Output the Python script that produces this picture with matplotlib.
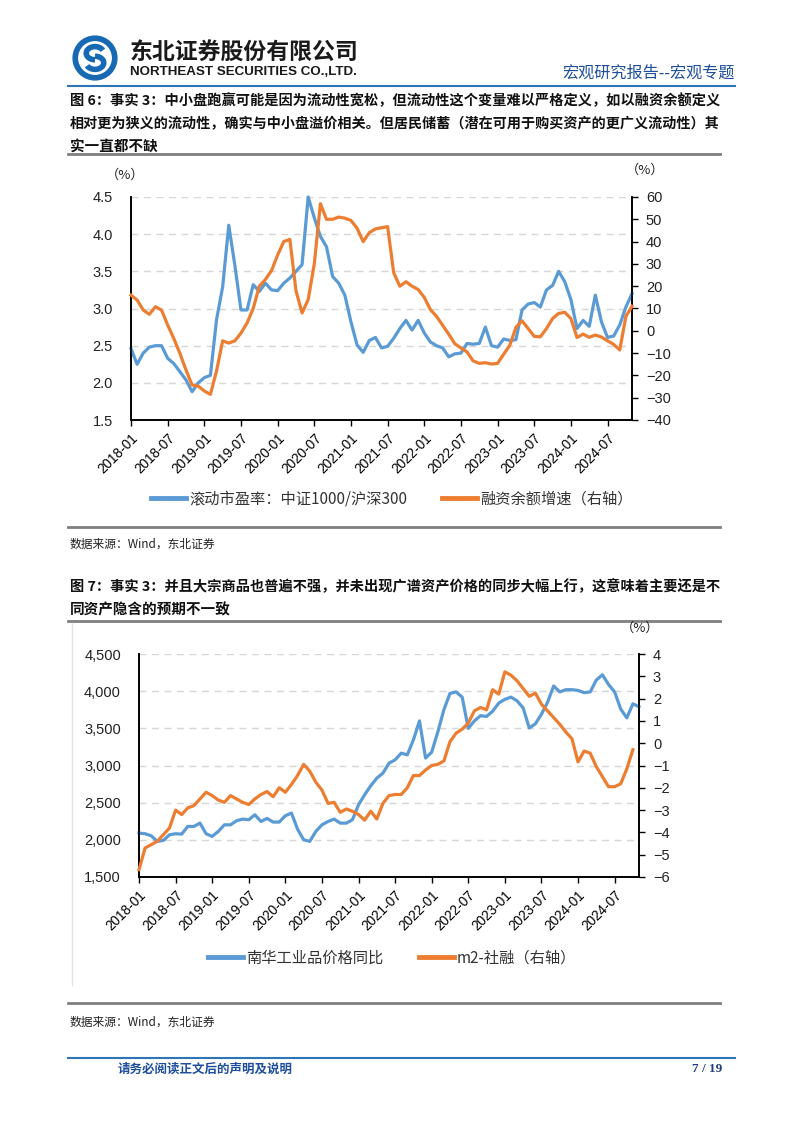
import numpy as np
import matplotlib.pyplot as plt
from matplotlib.patches import Circle, Arc
from matplotlib.lines import Line2D
from matplotlib.ticker import FuncFormatter

plt.rcParams['font.family'] = ['Noto Sans CJK SC', 'DejaVu Sans']
plt.rcParams['axes.unicode_minus'] = True

W, H = 802, 1133
BLUE = '#5B9BD5'
ORANGE = '#ED7D31'
NUM_FONT = ['Liberation Sans', 'DejaVu Sans']

# ---- data (monthly, 2018-01 onwards) ----
tick_labels = ['2018-01', '2018-07', '2019-01', '2019-07', '2020-01', '2020-07', '2021-01',
               '2021-07', '2022-01', '2022-07', '2023-01', '2023-07', '2024-01', '2024-07']

# fig 6: rolling PE ratio CSI1000 / CSI300 (left), margin balance growth % (right)
pe_ratio = [2.46, 2.25, 2.40, 2.48, 2.50, 2.50, 2.33, 2.26, 2.15, 2.04,
            1.88, 2.00, 2.07, 2.10, 2.85, 3.29, 4.12, 3.58, 2.98, 2.98,
            3.32, 3.23, 3.34, 3.25, 3.24, 3.34, 3.41, 3.50, 3.59, 4.50,
            4.22, 3.97, 3.83, 3.43, 3.34, 3.18, 2.82, 2.51, 2.41, 2.57,
            2.61, 2.47, 2.49, 2.60, 2.73, 2.84, 2.71, 2.84, 2.67, 2.55,
            2.50, 2.47, 2.35, 2.39, 2.40, 2.53, 2.52, 2.53, 2.75, 2.50,
            2.48, 2.59, 2.57, 2.58, 2.98, 3.06, 3.08, 3.02, 3.25, 3.31,
            3.50, 3.36, 3.12, 2.73, 2.84, 2.76, 3.18, 2.82, 2.61, 2.63,
            2.78, 3.02, 3.20]
margin_growth = [16.0, 13.8, 9.3, 7.4, 10.8, 9.3, 2.6, -3.4, -10.1, -17.6,
                 -24.3, -24.8, -27.0, -28.5, -18.0, -4.5, -5.5, -4.5, -1.0, 3.5,
                 10.0, 20.0, 23.0, 27.0, 34.0, 40.0, 41.0, 18.0, 8.0, 14.0,
                 30.0, 57.0, 50.0, 50.0, 51.0, 50.5, 49.5, 46.0, 40.0, 44.0,
                 45.7, 46.2, 46.7, 26.0, 20.0, 22.0, 20.0, 18.5, 15.0, 9.5,
                 6.5, 2.5, -1.5, -5.8, -7.7, -9.5, -13.5, -14.6, -14.3, -14.9,
                 -14.6, -10.5, -6.5, 1.5, 4.5, 1.0, -2.5, -2.7, 1.0, 5.5,
                 7.8, 8.3, 5.5, -3.0, -1.5, -2.9, -1.9, -2.8, -4.5, -6.1,
                 -8.6, 6.5, 11.0]

# fig 7: Nanhua industrial index (left), M2 - TSF growth gap % (right)
nanhua = [2091, 2082, 2055, 1979, 1992, 2068, 2082, 2077, 2180, 2180,
          2225, 2082, 2046, 2113, 2202, 2202, 2256, 2279, 2270, 2337,
          2247, 2288, 2239, 2239, 2324, 2360, 2144, 2001, 1979, 2113,
          2202, 2247, 2279, 2225, 2225, 2270, 2471, 2606, 2727, 2830,
          2897, 3031, 3076, 3166, 3143, 3345, 3600, 3100, 3180, 3450,
          3750, 3970, 3990, 3920, 3500, 3600, 3670, 3660, 3730, 3840,
          3890, 3920, 3870, 3775, 3505, 3560, 3690, 3850, 4070, 3990,
          4020, 4020, 4010, 3980, 3990, 4150, 4220, 4090, 3990, 3760,
          3640, 3830, 3790]
m2_tsf = [-5.67, -4.7, -4.55, -4.4, -4.1, -3.8, -3.0, -3.2, -2.9, -2.8,
          -2.5, -2.2, -2.35, -2.55, -2.65, -2.35, -2.5, -2.65, -2.75, -2.5,
          -2.3, -2.17, -2.4, -2.0, -2.2, -1.85, -1.45, -0.95, -1.25, -1.75,
          -2.1, -2.7, -2.65, -3.1, -2.95, -3.05, -3.2, -3.45, -3.05, -3.4,
          -2.7, -2.35, -2.3, -2.3, -2.0, -1.45, -1.45, -1.2, -1.0, -0.95,
          -0.8, 0.07, 0.45, 0.63, 0.9, 1.45, 1.6, 1.5, 2.4, 2.2,
          3.2, 3.05, 2.8, 2.45, 2.1, 2.25, 1.75, 1.45, 1.15, 0.85,
          0.5, 0.2, -0.84, -0.35, -0.45, -1.05, -1.5, -1.95, -1.95, -1.82,
          -1.15, -0.29]

fig = plt.figure(figsize=(W / 100, H / 100), dpi=100)


def fx(x):
    return x / W


def fy(y):
    return 1 - y / H


def hline(y, x0, x1, color, lw):
    fig.add_artist(Line2D([fx(x0), fx(x1)], [fy(y), fy(y)], color=color, lw=lw))


def fit_line(x, y, text, width_px, size=10.5):
    t = fig.text(fx(x), fy(y), text, fontsize=size, weight='bold', va='center', color='#111111')
    w = t.get_window_extent(fig.canvas.get_renderer()).width
    t.set_fontsize(size * width_px / w)
    return t


# ---- header ----
ax_logo = fig.add_axes([fx(72), fy(81), 46 / W, 46 / H])
ax_logo.set_xlim(-1.05, 1.05)
ax_logo.set_ylim(-1.05, 1.05)
ax_logo.axis('off')
ax_logo.add_patch(Circle((0, 0), 1.0, color='#1769b3'))
ax_logo.add_patch(Circle((0, 0), 0.74, color='white'))
ax_logo.add_patch(Arc((0.0, 0.22), 0.8, 0.6, theta1=20, theta2=270, color='#1769b3', lw=4))
ax_logo.add_patch(Arc((0.0, -0.22), 0.8, 0.6, theta1=200, theta2=450, color='#1769b3', lw=4))

fig.text(fx(130), fy(52), '东北证券股份有限公司', fontsize=16.5, weight='bold', va='center', color='#1a1a1a')
fig.text(fx(130), fy(72), 'NORTHEAST SECURITIES CO.,LTD.', fontsize=9.6, weight='bold', va='center',
         color='#1a1a1a', family=NUM_FONT)
fig.text(fx(735), fy(73), '宏观研究报告--宏观专题', fontsize=11.6, ha='right', va='center', color='#1f4e9c')
hline(86, 68, 735, '#2e75b6', 1.5)

# ---- figure 6 title ----
fit_line(70, 101, '图 6：事实 3：中小盘跑赢可能是因为流动性宽松，但流动性这个变量难以严格定义，如以融资余额定义', 650)
fit_line(70, 124, '相对更为狭义的流动性，确实与中小盘溢价相关。但居民储蓄（潜在可用于购买资产的更广义流动性）其', 650)
fig.text(fx(70), fy(146), '实一直都不缺', fontsize=10.5, weight='bold', va='center', color='#111111')
hline(154, 68, 720, '#7f7f7f', 2)


def style_axes(ax, axr, ylim, yticks, rlim, rticks, fmt):
    ax.set_xlim(0, 82)
    ax.set_ylim(*ylim)
    ax.set_yticks(yticks)
    ax.yaxis.set_major_formatter(FuncFormatter(fmt))
    axr.set_ylim(*rlim)
    axr.set_yticks(rticks)
    ax.set_xticks(np.arange(0, 79, 6))
    ax.set_xticklabels(tick_labels, rotation=45, ha='right', rotation_mode='anchor',
                       fontsize=9.8, family=NUM_FONT)
    ax.tick_params(axis='x', direction='out', length=4, width=1, pad=4)
    ax.tick_params(axis='y', length=0, pad=13, labelsize=10.5)
    axr.tick_params(axis='y', direction='out', length=4, width=1, pad=6, labelsize=10.5)
    for lab in ax.get_yticklabels() + axr.get_yticklabels():
        lab.set_family(NUM_FONT)
        lab.set_color('#222222')
    ax.grid(axis='y', linestyle=(0, (5, 4)), color='#d6d6d6', lw=1.0)
    ax.set_axisbelow(True)
    for a in (ax, axr):
        a.spines['top'].set_visible(False)
        for s in ('left', 'right', 'bottom'):
            a.spines[s].set_linewidth(1.2)
            a.spines[s].set_color('black')


# ---- chart 1 ----
ax1 = fig.add_axes([fx(131), fy(420), 501 / W, 223 / H])
ax1r = ax1.twinx()
style_axes(ax1, ax1r, (1.5, 4.5), np.arange(1.5, 4.51, 0.5), (-40, 60), np.arange(-40, 61, 10),
           lambda v, p: f'{v:.1f}')
ax1.plot(np.arange(len(pe_ratio)), pe_ratio, color=BLUE, lw=2.3, zorder=3, clip_on=False)
ax1r.plot(np.arange(len(margin_growth)), margin_growth, color=ORANGE, lw=2.3, zorder=3, clip_on=False)
fig.text(fx(125), fy(175), '（%）', fontsize=9.5, ha='center', va='center', color='#222222')
fig.text(fx(645), fy(170), '（%）', fontsize=9.5, ha='center', va='center', color='#222222')

h1 = [Line2D([], [], color=BLUE, lw=3.5), Line2D([], [], color=ORANGE, lw=3.5)]
ax1.legend(h1, ['滚动市盈率：中证1000/沪深300', '融资余额增速（右轴）'], loc='center',
           bbox_to_anchor=(fx(392), fy(499)), bbox_transform=fig.transFigure, ncol=2,
           frameon=False, fontsize=11, handlelength=2.3, handletextpad=0.2, columnspacing=2.3,
           labelcolor='#333333')

hline(527, 68, 720, '#7f7f7f', 2)
fig.text(fx(70), fy(544), '数据来源：Wind，东北证券', fontsize=8.5, va='center', color='#222222')

# ---- figure 7 title ----
fit_line(70, 587, '图 7：事实 3：并且大宗商品也普遍不强，并未出现广谱资产价格的同步大幅上行，这意味着主要还是不', 650)
fig.text(fx(70), fy(609), '同资产隐含的预期不一致', fontsize=10.5, weight='bold', va='center', color='#111111')
hline(621, 68, 720, '#7f7f7f', 2)
fig.add_artist(Line2D([fx(72), fx(72)], [fy(623), fy(985)], color='#e3e3e3', lw=1))

# ---- chart 2 ----
ax2 = fig.add_axes([fx(139), fy(877), 500 / W, 223 / H])
ax2r = ax2.twinx()
style_axes(ax2, ax2r, (1500, 4500), np.arange(1500, 4501, 500), (-6, 4), np.arange(-6, 5, 1),
           lambda v, p: f'{v:,.0f}')
ax2.plot(np.arange(len(nanhua)), nanhua, color=BLUE, lw=2.3, zorder=3, clip_on=False)
ax2r.plot(np.arange(len(m2_tsf)), m2_tsf, color=ORANGE, lw=2.3, zorder=3, clip_on=False)
fig.text(fx(640), fy(628), '（%）', fontsize=9.5, ha='center', va='center', color='#222222')

h2 = [Line2D([], [], color=BLUE, lw=3.5), Line2D([], [], color=ORANGE, lw=3.5)]
ax2.legend(h2, ['南华工业品价格同比', 'm2-社融（右轴）'], loc='center',
           bbox_to_anchor=(fx(392), fy(958)), bbox_transform=fig.transFigure, ncol=2,
           frameon=False, fontsize=11, handlelength=2.3, handletextpad=0.2, columnspacing=2.3,
           labelcolor='#333333')

hline(1003, 68, 720, '#7f7f7f', 2)
fig.text(fx(70), fy(1022), '数据来源：Wind，东北证券', fontsize=8.5, va='center', color='#222222')

# ---- footer ----
hline(1058, 68, 735, '#2e75b6', 1.5)
fig.text(fx(118), fy(1069), '请务必阅读正文后的声明及说明', fontsize=9, weight='bold', va='center', color='#1f4e9c')
fig.text(fx(722), fy(1069), '7 / 19', fontsize=9.5, weight='bold', ha='right', va='center',
         color='#1f3f7a', family=['Liberation Serif', 'DejaVu Serif'])

fig.savefig('out.png', dpi=100)
